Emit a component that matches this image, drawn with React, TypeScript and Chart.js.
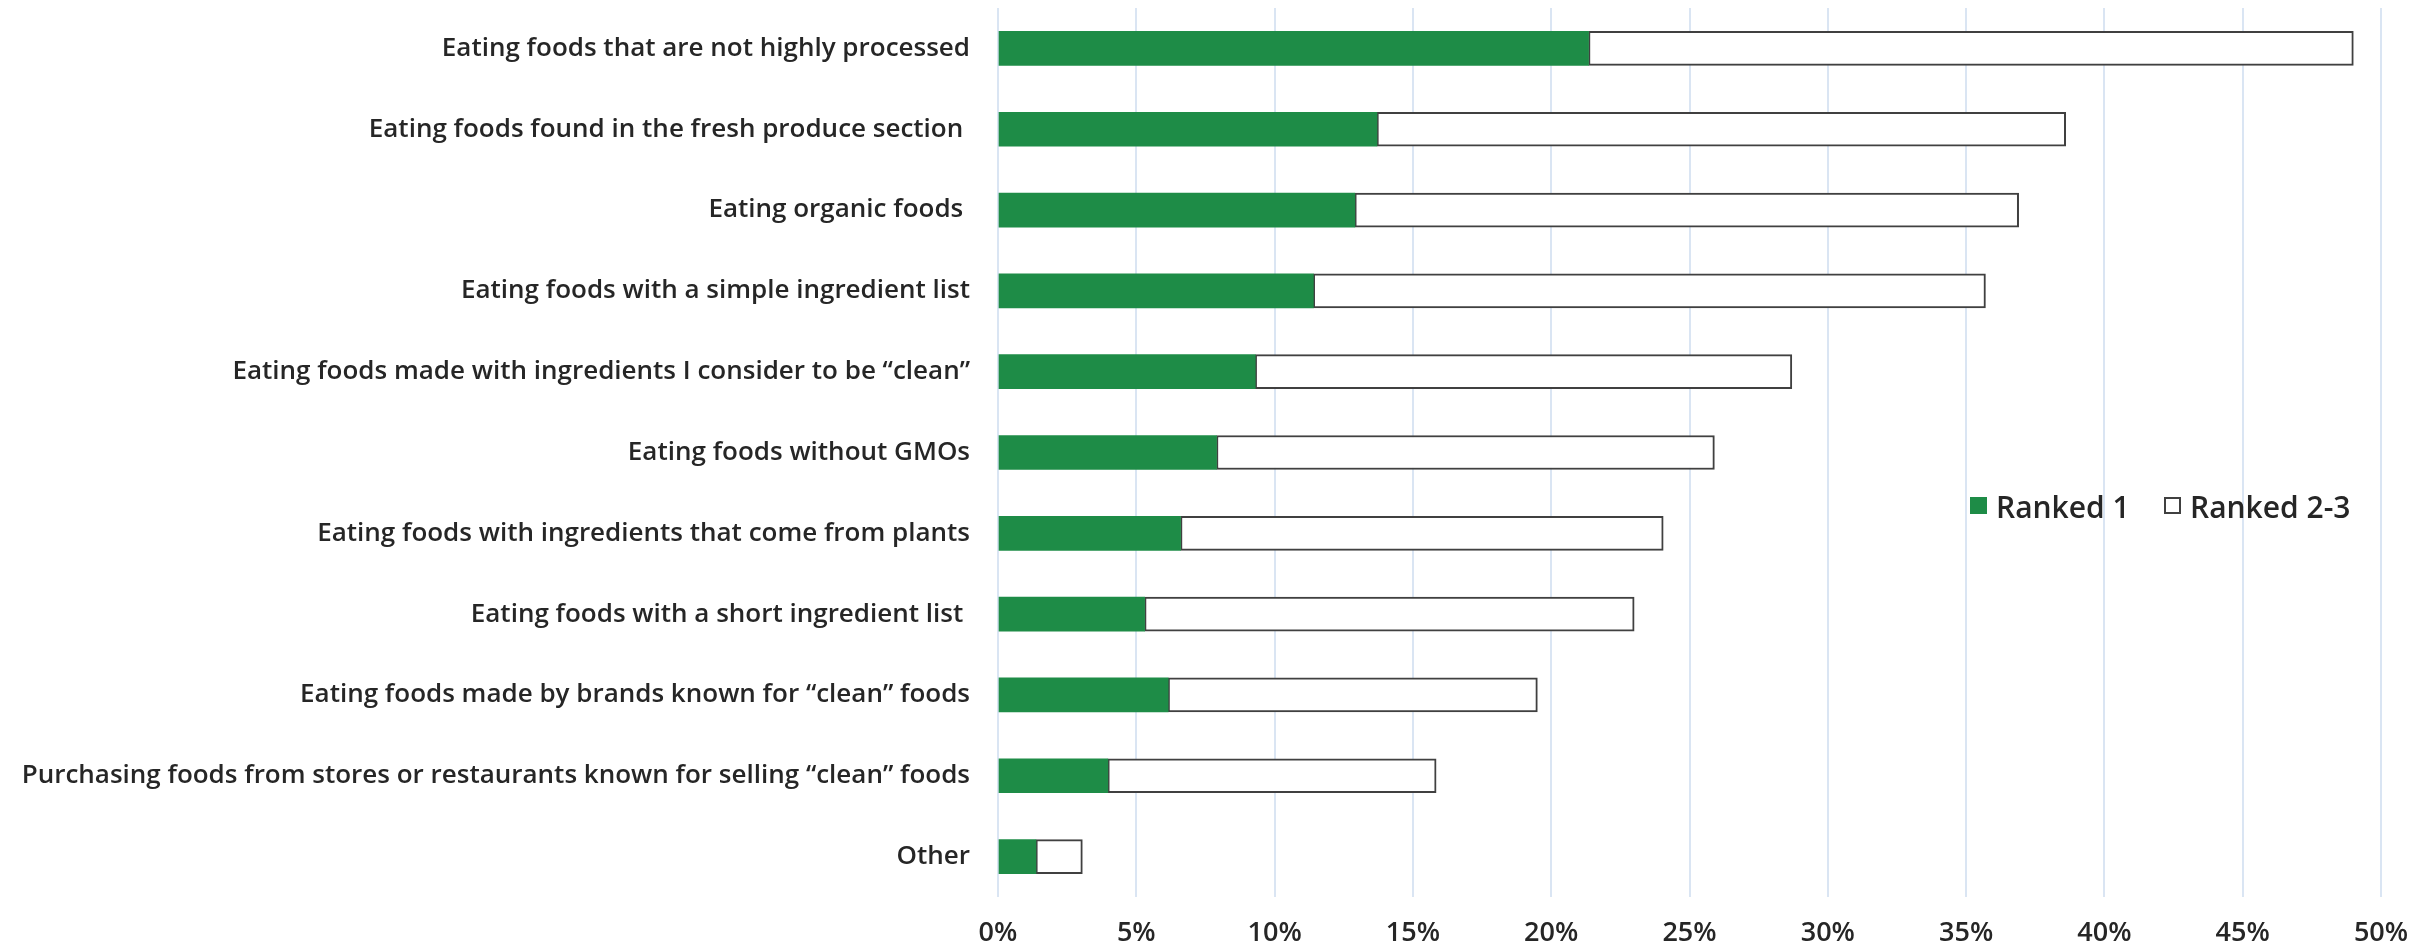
import React, { useEffect, useRef } from "react";
import { Chart, registerables } from "chart.js";

Chart.register(...registerables);

const categories = [
  "Eating foods that are not highly processed",
  "Eating foods found in the fresh produce section ",
  "Eating organic foods ",
  "Eating foods with a simple ingredient list",
  "Eating foods made with ingredients I consider to be \u201cclean\u201d",
  "Eating foods without GMOs",
  "Eating foods with ingredients that come from plants",
  "Eating foods with a short ingredient list ",
  "Eating foods made by brands known for \u201cclean\u201d foods",
  "Purchasing foods from stores or restaurants known for selling \u201cclean\u201d foods",
  "Other",
];

const ranked1 = [21.35, 13.7, 12.9, 11.4, 9.3, 7.9, 6.6, 5.3, 6.15, 3.97, 1.37];
const ranked23 = [27.65, 24.9, 24.0, 24.3, 19.4, 18.0, 17.45, 17.7, 13.35, 11.87, 1.68];

const seriesLabels = ["Ranked 1", "Ranked 2-3"];
const xTickMax = 50;
const xTickStep = 5;

const FONT = "'Open Sans', 'Liberation Sans', sans-serif";
const TEXT = "#262626";
const GREEN = "#1E8C47";
const BORDER = "#404040";
const GRID = "#DAE5F3";

const legendPlugin = {
  id: "customLegend",
  afterDraw(chart: any) {
    const ctx = chart.ctx;
    const ds = chart.data.datasets;
    const xs = [1970, 2164];
    ctx.save();
    ctx.font = `600 30px ${FONT}`;
    ctx.fillStyle = TEXT;
    ctx.textBaseline = "alphabetic";
    ds.forEach((d: any, i: number) => {
      const x = xs[i];
      if (i === 0) {
        ctx.fillStyle = d.backgroundColor;
        ctx.fillRect(x, 497, 17, 17);
      } else {
        ctx.fillStyle = "#ffffff";
        ctx.fillRect(x, 497, 17, 17);
        ctx.strokeStyle = BORDER;
        ctx.lineWidth = 2;
        ctx.strokeRect(x + 1, 498, 15, 15);
      }
      ctx.fillStyle = TEXT;
      ctx.textAlign = "left";
      ctx.fillText(d.label, x + 26, 518);
    });
    ctx.restore();
  },
};

export default function App() {
  const ref = useRef<HTMLCanvasElement | null>(null);

  useEffect(() => {
    if (!ref.current) return;
    const chart = new Chart(ref.current, {
      type: "bar",
      data: {
        labels: categories,
        datasets: [
          {
            label: seriesLabels[0],
            data: ranked1,
            backgroundColor: GREEN,
            borderWidth: 0,
            barThickness: 34,
          },
          {
            label: seriesLabels[1],
            data: ranked23,
            backgroundColor: "#ffffff",
            borderColor: BORDER,
            borderWidth: 2,
            borderSkipped: false,
            barThickness: 34,
          },
        ],
      },
      options: {
        indexAxis: "y",
        animation: false,
        responsive: false,
        layout: { padding: { top: 8, right: 39, bottom: 0, left: 0 } },
        plugins: {
          legend: { display: false },
          tooltip: { enabled: false },
        },
        scales: {
          x: {
            stacked: true,
            min: 0,
            max: xTickMax,
            grid: { color: GRID, lineWidth: 2, drawTicks: false },
            border: { display: false },
            ticks: {
              stepSize: xTickStep,
              padding: 20,
              color: TEXT,
              font: { family: FONT, size: 27, weight: "600" },
              callback: (v: any) => `${v}%`,
              maxRotation: 0,
            },
            afterFit: (scale: any) => {
              scale.height = 50;
              scale.paddingLeft = 0;
              scale.paddingRight = 0;
            },
          },
          y: {
            stacked: true,
            grid: { display: false, drawTicks: false },
            border: { display: false },
            ticks: {
              padding: 28,
              color: TEXT,
              font: { family: FONT, size: 26, weight: "600" },
              autoSkip: false,
            },
            afterFit: (scale: any) => {
              scale.width = 998;
              scale.paddingTop = 0;
              scale.paddingBottom = 0;
            },
          },
        },
      },
      plugins: [legendPlugin],
    });
    return () => chart.destroy();
  }, []);

  return (
    <canvas
      ref={ref}
      width={2420}
      height={947}
      style={{ position: "absolute", left: 0, top: 0, width: 2420, height: 947 }}
    />
  );
}
